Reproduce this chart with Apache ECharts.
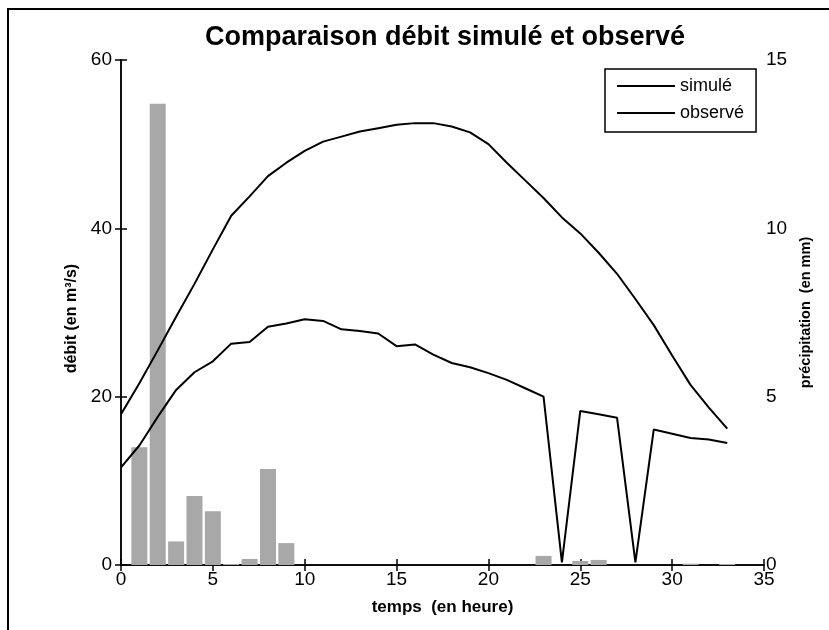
<!DOCTYPE html>
<html>
<head>
<meta charset="utf-8">
<script src="https://cdn.jsdelivr.net/npm/echarts@6/dist/echarts.min.js"></script>
<style>
    html, body { margin: 0; padding: 0; background: #fff; }
    #chart { width: 829px; height: 630px; }
</style>
</head>
<body>
<div id="chart"></div>
<script>
// heures (0..33)
var heures = [0, 1, 2, 3, 4, 5, 6, 7, 8, 9, 10, 11, 12, 13, 14, 15, 16,
    17, 18, 19, 20, 21, 22, 23, 24, 25, 26, 27, 28, 29, 30, 31, 32, 33];

// débit simulé (m3/s)
var simule = [17.9, 21.6, 25.5, 29.5, 33.4, 37.5, 41.5, 43.8, 46.2, 47.8, 49.2, 50.3,
    50.9, 51.5, 51.9, 52.3, 52.5, 52.5, 52.1, 51.4, 50.0, 47.8, 45.7, 43.6,
    41.3, 39.4, 37.1, 34.6, 31.6, 28.5, 24.9, 21.4, 18.7, 16.2];

// débit observé (m3/s)
var observe = [11.6, 14.2, 17.6, 20.8, 22.9, 24.2, 26.3, 26.5, 28.3, 28.7, 29.2, 29.0,
    28.0, 27.8, 27.5, 26.0, 26.2, 25.0, 24.0, 23.5, 22.8, 22.0, 21.0, 20.0,
    0.3, 18.3, 17.9, 17.5, 0.3, 16.1, 15.6, 15.1, 14.9, 14.5];

// précipitation (mm)
var pluieHeures = [1, 2, 3, 4, 5, 6, 7, 8, 9, 23, 25, 26, 31, 33];
var pluie = [3.5, 13.7, 0.7, 2.05, 1.6, 0.03, 0.18, 2.85, 0.65, 0.27, 0.12, 0.15, 0.04, 0.03];

var police = 'Liberation Sans';

var myChart = echarts.init(document.getElementById('chart'));

function pairs(xs, ys) {
    var res = [];
    for (var i = 0; i < xs.length; i++) res.push([xs[i], ys[i]]);
    return res;
}

// traits de graduation vers l'intérieur (longueur négative)
var tick = { show: true, inside: false, length: -6, lineStyle: { color: '#000', width: 1.5 } };

var option = {
    backgroundColor: '#fff',
    animation: false,
    title: {
        text: 'Comparaison débit simulé et observé',
        left: 440,
        textAlign: 'center',
        top: 19,
        textStyle: { fontFamily: police, fontSize: 27, fontWeight: 'bold', color: '#000' }
    },
    graphic: [{
        type: 'rect',
        shape: { x: 8, y: 9, width: 840, height: 640 },
        style: { fill: null, stroke: '#000', lineWidth: 2 },
        silent: true
    }],
    legend: {
        data: ['simulé', 'observé'],
        orient: 'vertical',
        left: 605,
        top: 69,
        padding: [8, 12, 10, 12],
        itemGap: 9,
        itemWidth: 58,
        itemHeight: 2,
        itemTextGap: 9,
        icon: 'rect',
        borderColor: '#000',
        borderWidth: 1.5,
        backgroundColor: '#fff',
        textStyle: { fontFamily: police, fontSize: 18, color: '#000' }
    },
    grid: { left: 121, right: 65, top: 60, bottom: 65 },
    xAxis: [
        {
            type: 'value',
            min: 0, max: 35, interval: 5,
            name: 'temps  (en heure)',
            nameLocation: 'middle',
            nameGap: 34,
            nameTextStyle: { fontFamily: police, fontSize: 17, fontWeight: 'bold', color: '#000' },
            axisLine: { lineStyle: { color: '#000', width: 1.5 } },
            axisTick: tick,
            axisLabel: { fontFamily: police, fontSize: 19, color: '#000', margin: 5 },
            splitLine: { show: false }
        },
        {
            type: 'value',
            position: 'top',
            min: 0, max: 35, interval: 5,
            axisLine: { lineStyle: { color: '#000', width: 1.5 } },
            axisTick: tick,
            axisLabel: { show: false },
            splitLine: { show: false }
        }
    ],
    yAxis: [
        {
            type: 'value',
            min: 0, max: 60, interval: 20,
            name: 'débit (en m³/s)',
            nameLocation: 'middle',
            nameRotate: 90,
            nameGap: 37,
            nameTextStyle: { fontFamily: police, fontSize: 16, fontWeight: 'bold', color: '#000', padding: [0, 12, 0, 0] },
            axisLine: { show: true, lineStyle: { color: '#000', width: 1.5 } },
            axisTick: tick,
            axisLabel: { fontFamily: police, fontSize: 19, color: '#000', margin: 9 },
            splitLine: { show: false }
        },
        {
            type: 'value',
            min: 0, max: 15, interval: 5,
            name: 'précipitation  (en mm)',
            nameLocation: 'middle',
            nameRotate: 90,
            nameGap: 34,
            nameTextStyle: { fontFamily: police, fontSize: 14.5, fontWeight: 'bold', color: '#000' },
            axisLine: { show: true, lineStyle: { color: '#000', width: 1.5 } },
            axisTick: tick,
            axisLabel: { fontFamily: police, fontSize: 19, color: '#000', margin: 2 },
            splitLine: { show: false }
        }
    ],
    series: [
        {
            name: 'précipitation',
            type: 'bar',
            xAxisIndex: 0,
            yAxisIndex: 1,
            barWidth: 16,
            itemStyle: { color: '#a8a8a8' },
            data: pairs(pluieHeures, pluie),
            z: 1
        },
        {
            name: 'simulé',
            type: 'line',
            xAxisIndex: 0,
            yAxisIndex: 0,
            showSymbol: false,
            itemStyle: { color: '#000' },
            lineStyle: { color: '#000', width: 2 },
            data: pairs(heures, simule),
            z: 3
        },
        {
            name: 'observé',
            type: 'line',
            xAxisIndex: 0,
            yAxisIndex: 0,
            showSymbol: false,
            itemStyle: { color: '#000' },
            lineStyle: { color: '#000', width: 2 },
            data: pairs(heures, observe),
            z: 3
        }
    ]
};

myChart.setOption(option);
</script>
</body>
</html>
